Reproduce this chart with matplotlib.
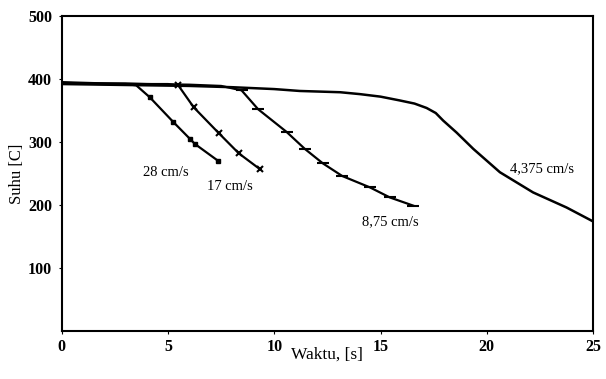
import numpy as np
import matplotlib.pyplot as plt

# data (time [s], temperature [C])
t_28 = [0, 1, 2, 3, 3.5, 4.14, 5.24, 6.03, 6.26, 7.36]
T_28 = [394, 393, 393, 392, 390, 371, 332, 305, 297, 270]

t_17 = [0, 1, 2, 3, 4, 5, 5.48, 6.21, 7.39, 8.33, 9.32]
T_17 = [395, 394, 393, 393, 392, 392, 390, 355, 314, 282, 257]

t_875 = [0, 2, 4, 6, 7.5, 8.46, 9.24, 10.58, 11.44, 12.29, 13.2, 14.5, 15.44, 16.54]
T_875 = [393, 392, 392, 391, 389, 382, 352, 316, 289, 266, 246, 228, 212, 199]

t_4375 = [0, 2, 4, 6, 8, 10, 11.2, 13.1, 14.03, 15.0, 15.9, 16.6, 17.17, 17.6, 17.95, 18.58,
          19.37, 20.62, 22.18, 23.76, 25]
T_4375 = [392, 391, 390, 389, 387, 384, 381, 379, 376, 372, 366, 361, 354, 346, 334, 315,
          289, 252, 220, 196, 174]

labels = ["28 cm/s", "17 cm/s", "8,75 cm/s", "4,375 cm/s"]
label_pos = [(4.9, 252), (7.9, 230), (15.45, 174), (22.6, 257)]

plt.rcParams['font.family'] = ['Liberation Serif', 'DejaVu Serif']

fig = plt.figure(figsize=(6.06, 3.79), dpi=100)
ax = fig.add_axes([0.102, 0.1266, 0.8765, 0.8312])

ax.plot(t_4375, T_4375, color='black', lw=1.8)
ax.plot(t_875, T_875, color='black', lw=1.6, marker='_', ms=8, mew=1.5, markevery=list(range(5, len(t_875))))
ax.plot(t_17, T_17, color='black', lw=1.6, marker='x', ms=5, mew=1.5, markevery=list(range(6, len(t_17))))
ax.plot(t_28, T_28, color='black', lw=1.6, marker='s', ms=3.5, markevery=list(range(5, len(t_28))))

for txt, (x, y) in zip(labels, label_pos):
    ax.text(x, y, txt, fontsize=10.5, ha='center', va='center')

ax.set_xlim(0, 25)
ax.set_ylim(0, 500)
ax.set_xticks([0, 5, 10, 15, 20, 25])
ax.set_yticks([100, 200, 300, 400, 500])
ax.tick_params(length=2, labelsize=11.5, pad=5)
ax.tick_params(axis='x', pad=4)
for lab in ax.get_xticklabels() + ax.get_yticklabels():
    lab.set_fontweight('bold')
for s in ax.spines.values():
    s.set_linewidth(1.5)

ax.set_xlabel('Waktu, [s]', fontsize=12.5, labelpad=-6)
ax.set_ylabel('Suhu [C]', fontsize=12, labelpad=2)

fig.savefig('out.png', dpi=100)
